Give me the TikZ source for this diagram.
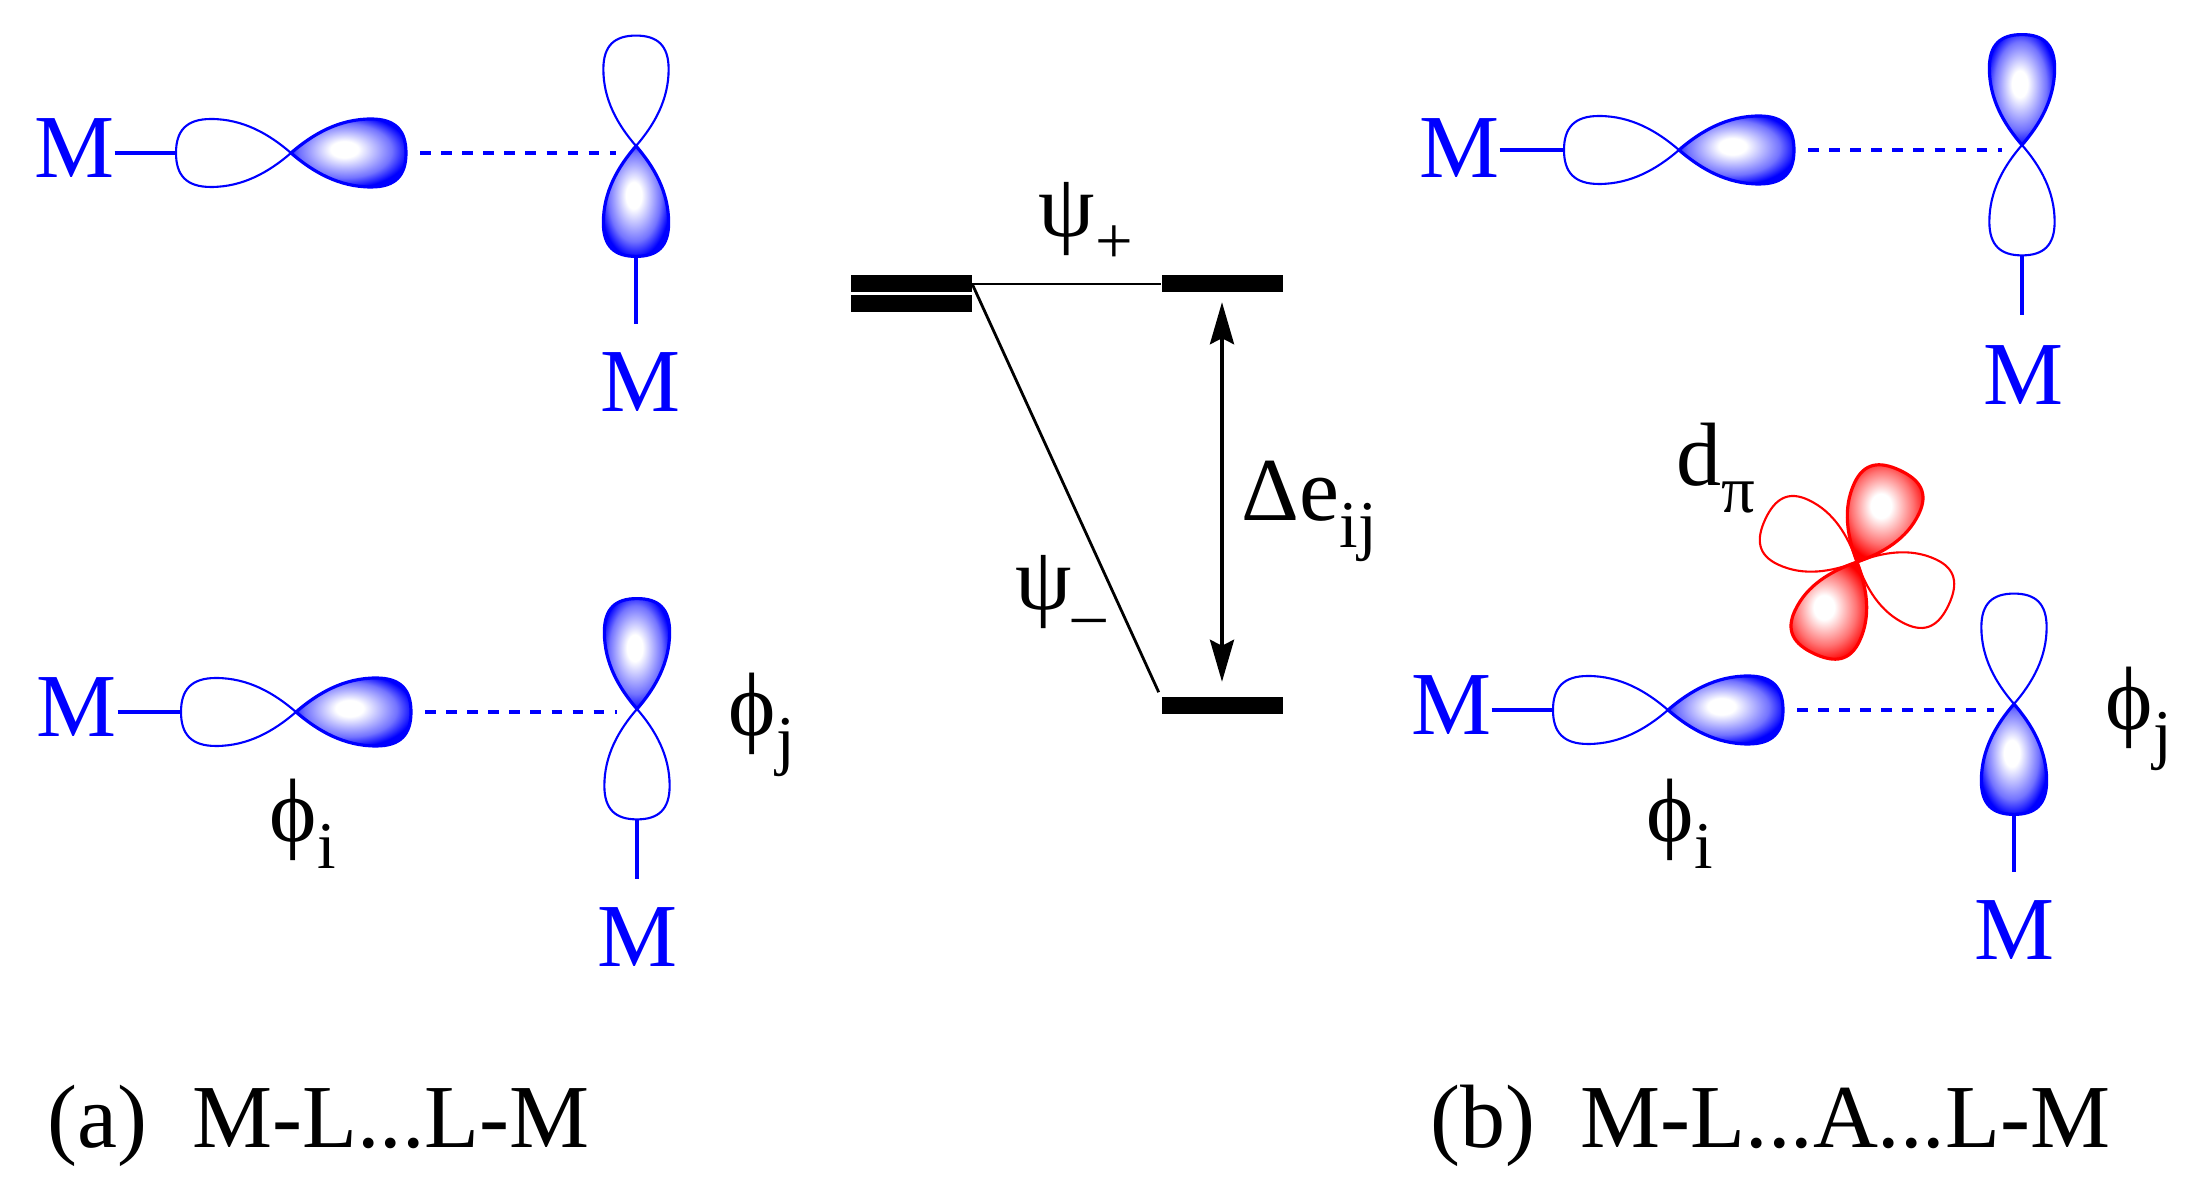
\documentclass[tikz,border=0pt]{standalone}
\usepackage{fontspec}
\setmainfont{Liberation Serif}
\usetikzlibrary{arrows.meta}

\pgfdeclareradialshading{lobeblue}{\pgfpoint{-2bp}{3bp}}{color(0bp)=(white); color(6bp)=(white); color(20bp)=(blue!55); color(27bp)=(blue); color(50bp)=(blue)}
\pgfdeclareradialshading{lobered}{\pgfpoint{-3bp}{3bp}}{color(0bp)=(white); color(6bp)=(white); color(18bp)=(red!55); color(26bp)=(red); color(50bp)=(red)}

\newcommand{\lobe}[3][]{\path[shift={(#2)}, rotate=#3, #1]
  (0,0) .. controls (0.22,0.19) and (0.48,0.34) .. (0.8,0.34)
  .. controls (1.05,0.34) and (1.15,0.22) .. (1.15,0)
  .. controls (1.15,-0.22) and (1.05,-0.34) .. (0.8,-0.34)
  .. controls (0.48,-0.34) and (0.22,-0.19) .. (0,0) -- cycle;}
\newcommand{\lowpart}[1]{\raisebox{-0.3em}{\fontsize{19}{19}\selectfont #1}}

\tikzset{
  openlobe/.style={draw=blue, line width=0.6pt},
  fulllobe/.style={draw=blue, line width=0.9pt, shade, shading=lobeblue},
  tall/.style={xscale=0.96, yscale=0.96},
  openred/.style={draw=red, line width=0.6pt, xscale=0.88, yscale=1.05},
  fullred/.style={draw=red, line width=0.9pt, shade, shading=lobered, xscale=0.88, yscale=1.05},
  metal/.style={text=blue, inner sep=0pt, font=\fontsize{25.6}{25.6}\selectfont},
  label/.style={anchor=base west, inner sep=0pt, font=\fontsize{25.6}{25.6}\selectfont},
  bond/.style={draw=blue, line width=1pt},
  weak/.style={draw=blue, line width=1pt, dash pattern=on 3pt off 3pt},
  level/.style={fill=black, inner sep=0pt, minimum width=1.21cm, minimum height=0.17cm},
}

\begin{document}
\begin{tikzpicture}[>={Stealth[length=4.2mm,width=2.4mm,inset=0.6mm]}]
\useasboundingbox (0,0) rectangle (22.10,11.95);

%------------------ TOP LEFT ------------------%
\coordinate (hA) at (2.91,10.42);
\coordinate (vA) at (6.36,10.49);
\coordinate (hAl) at (1.76,10.42);
\coordinate (hAr) at (4.06,10.42);
\coordinate (vAb) at (6.36,9.39);
\node[metal] (mA) at (0.74,10.47) {M};
\node[metal] (mAb) at (6.40,8.13) {M};
\lobe[openlobe]{hA}{180}
\lobe[fulllobe]{hA}{0}
\lobe[openlobe, tall]{vA}{90}
\lobe[fulllobe, tall]{vA}{-90}
\draw[bond, line width=1.4pt] (mA.east |- hA) -- (hAl);
\draw[bond, shorten >=0.28cm] (vAb) -- (vAb |- mAb.north);
\draw[weak, shorten <=0.14cm, shorten >=0.2cm] (hAr) -- (vA |- hA);

%------------------ BOTTOM LEFT ------------------%
\coordinate (hB) at (2.96,4.83);
\coordinate (vB) at (6.37,4.86);
\coordinate (hBl) at (1.81,4.83);
\coordinate (hBr) at (4.11,4.83);
\coordinate (vBb) at (6.37,3.76);
\node[metal] (mB) at (0.77,4.88) {M};
\node[metal] (mBb) at (6.37,2.58) {M};
\lobe[openlobe]{hB}{180}
\lobe[fulllobe]{hB}{0}
\lobe[fulllobe, tall]{vB}{90}
\lobe[openlobe, tall]{vB}{-90}
\draw[bond, line width=1.4pt] (mB.east |- hB) -- (hBl);
\draw[bond, shorten >=0.28cm] (vBb) -- (vBb |- mBb.north);
\draw[weak, shorten <=0.14cm, shorten >=0.2cm] (hBr) -- (vB |- hB);
\node[label] (phiB) at (2.69,3.53) {ϕ\lowpart{i}};
\node[label] (phjB) at (7.28,4.59) {ϕ\lowpart{j}};

%------------------ ENERGY LEVELS ------------------%
\node[level] (lvA) at (9.11,9.11) {};
\node[level] (lvAb) at (9.11,8.91) {};
\node[level] (lvB) at (12.22,9.11) {};
\node[level] (lvC) at (12.22,4.89) {};
\draw[line width=0.8pt] (lvA.east) -- (lvB.west);
\draw[line width=0.8pt, shorten >=0.05cm] (lvA.east) -- (lvC.north west);
\draw[<->, line width=1.1pt, shorten <=0.09cm, shorten >=0.15cm] (lvB.south) -- (lvC.north);
\node[label] (psiP) at (10.38,9.58) {ψ\lowpart{+}};
\node[label] (psiM) at (10.15,5.85) {ψ\lowpart{–}};
\node[label] (gap) at (12.41,6.74) {Δe\lowpart{ij}};

%------------------ TOP RIGHT ------------------%
\coordinate (hC) at (16.79,10.45);
\coordinate (vC) at (20.22,10.50);
\coordinate (hCl) at (15.64,10.45);
\coordinate (hCr) at (17.94,10.45);
\coordinate (vCb) at (20.22,9.40);
\node[metal] (mC) at (14.59,10.47) {M};
\node[metal] (mCb) at (20.23,8.20) {M};
\lobe[openlobe]{hC}{180}
\lobe[fulllobe]{hC}{0}
\lobe[fulllobe, tall]{vC}{90}
\lobe[openlobe, tall]{vC}{-90}
\draw[bond] (mC.east |- hC) -- (hCl);
\draw[bond, shorten >=0.3cm] (vCb) -- (vCb |- mCb.north);
\draw[weak, shorten <=0.14cm, shorten >=0.2cm] (hCr) -- (vC |- hC);

%------------------ BOTTOM RIGHT ------------------%
\coordinate (hD) at (16.68,4.85);
\coordinate (vD) at (20.14,4.91);
\coordinate (hDl) at (15.53,4.85);
\coordinate (hDr) at (17.83,4.85);
\coordinate (vDb) at (20.14,3.81);
\node[metal] (mD) at (14.51,4.90) {M};
\node[metal] (mDb) at (20.14,2.65) {M};
\lobe[openlobe]{hD}{180}
\lobe[fulllobe]{hD}{0}
\lobe[openlobe, tall]{vD}{90}
\lobe[fulllobe, tall]{vD}{-90}
\draw[bond] (mD.east |- hD) -- (hDl);
\draw[bond, shorten >=0.28cm] (vDb) -- (vDb |- mDb.north);
\draw[weak, shorten <=0.14cm, shorten >=0.2cm] (hDr) -- (vD |- hD);
\node[label] (phiD) at (16.46,3.53) {ϕ\lowpart{i}};
\node[label] (phjD) at (21.05,4.65) {ϕ\lowpart{j}};

% d orbital
\coordinate (dC) at (18.57,6.33);
\lobe[openred]{dC}{155}
\lobe[openred]{dC}{-25}
\lobe[fullred]{dC}{65}
\lobe[fullred]{dC}{245}
\node[label] (dPi) at (16.76,7.09) {d\lowpart{π}};

%------------------ CAPTIONS ------------------%
\node[label] (capA) at (0.47,0.47) {(a)\ \ M-L...L-M};
\node[label] (capB) at (14.30,0.47) {(b)\ \ M-L...A...L-M};

\end{tikzpicture}
\end{document}
